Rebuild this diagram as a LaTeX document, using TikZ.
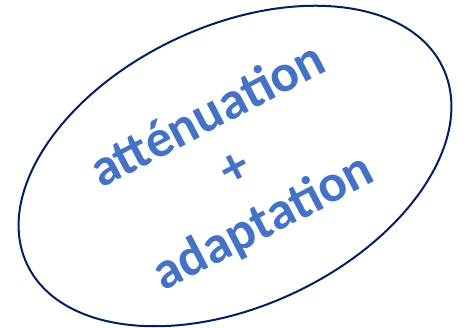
\documentclass[tikz,border=0pt]{standalone}
\usepackage{fontspec}
\setmainfont{Carlito}
\definecolor{navy}{HTML}{002060}
\definecolor{txtblue}{HTML}{4472C4}
\tikzset{
  oval/.style={draw=navy, line width=2pt},
  label/.style={text=txtblue, font=\bfseries\fontsize{53}{60}\selectfont, align=center, inner sep=0pt}
}
\begin{document}
\begin{tikzpicture}[x=1pt,y=1pt]
\useasboundingbox (0,0) rectangle (470,328);
\draw[oval, rotate around={25.3:(235,162)}] (235,162) ellipse [x radius=230, y radius=140];
\node[label, rotate=27.5] (t) at (236,158) {atténuation\\+\\adaptation};
\end{tikzpicture}
\end{document}
